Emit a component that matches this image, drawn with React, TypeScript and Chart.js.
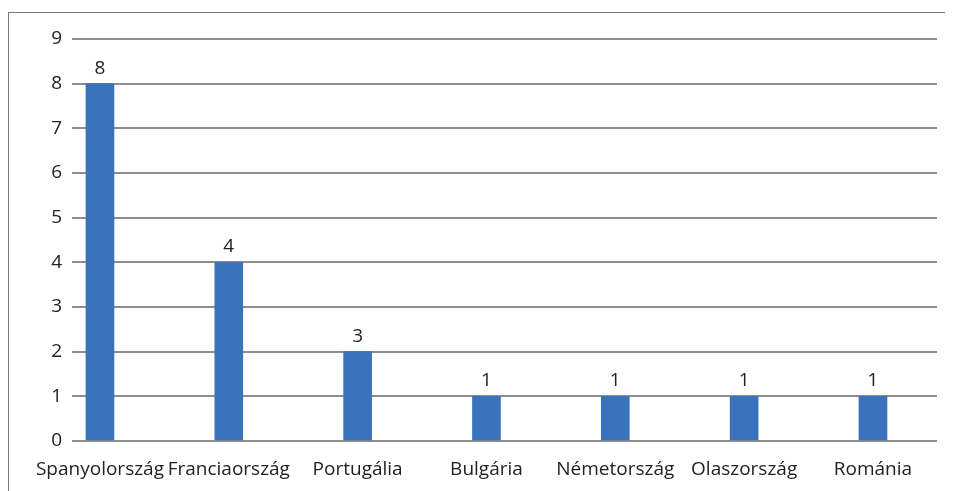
import React, { useEffect, useRef } from "react";
import { Chart, registerables } from "chart.js";

Chart.register(...registerables);

const categories = ["Spanyolország", "Franciaország", "Portugália", "Bulgária", "Németország", "Olaszország", "Románia"];
const barValues = [8, 4, 2, 1, 1, 1, 1];
const barLabelTexts = ["8", "4", "3", "1", "1", "1", "1"];
const yTicks = [0, 1, 2, 3, 4, 5, 6, 7, 8, 9];

const FONT = "'Open Sans', 'Noto Sans', sans-serif";
const FS = 19;

const dataLabelPlugin = {
  id: "dataLabels",
  afterDatasetsDraw(chart: any) {
    const ctx = chart.ctx;
    const meta = chart.getDatasetMeta(0);
    ctx.save();
    ctx.font = `${FS}px ${FONT}`;
    ctx.fillStyle = "#222";
    ctx.textAlign = "center";
    ctx.textBaseline = "alphabetic";
    meta.data.forEach((el: any, i: number) => {
      ctx.fillText(barLabelTexts[i], el.x, el.y - 10);
    });
    ctx.restore();
  },
};

export default function App() {
  const ref = useRef<HTMLCanvasElement | null>(null);
  useEffect(() => {
    if (!ref.current) return;
    const chart = new Chart(ref.current, {
      type: "bar",
      data: {
        datasets: [
          {
            data: barValues.map((v, i) => ({ x: i, y: v })),
            backgroundColor: "#3b72bc",
            barThickness: 28,
          },
        ],
      },
      options: {
        animation: false,
        responsive: true,
        maintainAspectRatio: false,
        layout: { padding: { top: 26, right: 16, left: 0, bottom: 0 } },
        plugins: { legend: { display: false }, tooltip: { enabled: false } },
        scales: {
          x: {
            type: "linear",
            offset: false,
            min: -0.217,
            max: 6.497,
            afterBuildTicks: (scale: any) => {
              scale.ticks = categories.map((_, i) => ({ value: i }));
            },
            afterFit: (scale: any) => {
              scale.height = 50;
            },
            grid: { display: false, drawTicks: false, offset: false },
            border: { display: false },
            ticks: {
              autoSkip: false,
              maxRotation: 0,
              padding: 17,
              color: "#222",
              font: { family: FONT, size: FS },
              callback: (v: any) => categories[v as number] ?? "",
            },
          },
          y: {
            min: 0,
            max: 9,
            afterBuildTicks: (scale: any) => {
              scale.ticks = yTicks.map((v) => ({ value: v }));
            },
            afterFit: (scale: any) => {
              scale.width = 63;
            },
            grid: { color: "#8e8e8e", lineWidth: 2, drawTicks: false },
            border: { display: false },
            ticks: {
              padding: 10,
              color: "#222",
              font: { family: FONT, size: FS },
            },
          },
        },
      },
      plugins: [dataLabelPlugin],
    });
    return () => chart.destroy();
  }, []);
  return (
    <div
      style={{
        marginTop: 4,
        marginRight: -8,
        borderTop: "1px solid #7a7a7a",
        borderLeft: "1px solid #7a7a7a",
        height: 478,
        position: "relative",
      }}
    >
      <canvas ref={ref} />
    </div>
  );
}
